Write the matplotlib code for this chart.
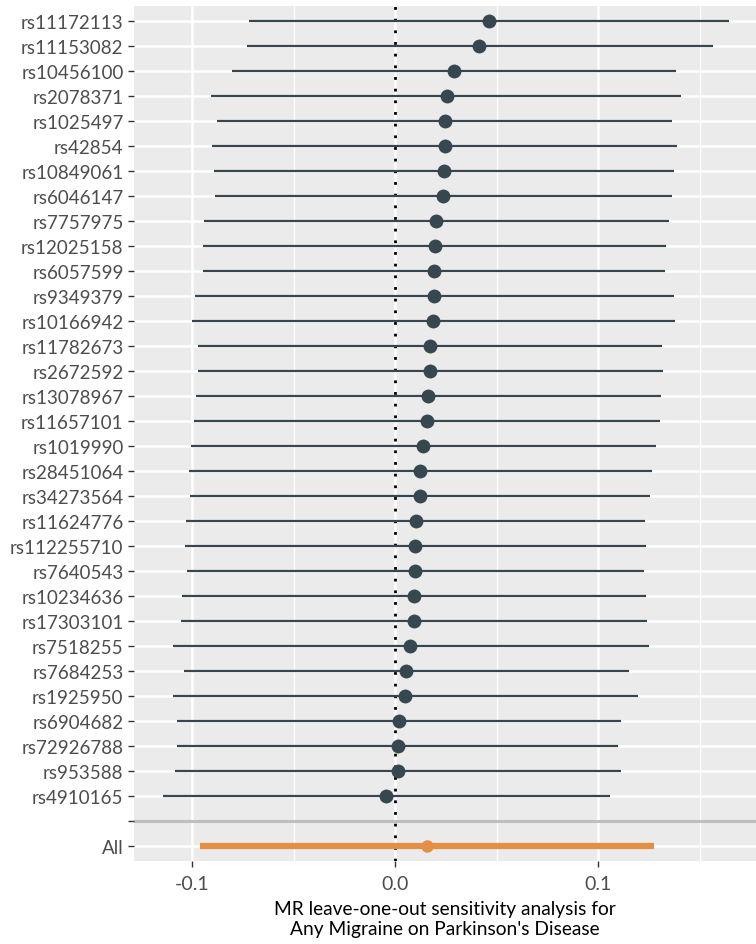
import matplotlib
matplotlib.use("Agg")
import matplotlib.pyplot as plt
import numpy as np

snps = ["rs11172113", "rs11153082", "rs10456100", "rs2078371", "rs1025497", "rs42854",
        "rs10849061", "rs6046147", "rs7757975", "rs12025158", "rs6057599", "rs9349379",
        "rs10166942", "rs11782673", "rs2672592", "rs13078967", "rs11657101", "rs1019990",
        "rs28451064", "rs34273564", "rs11624776", "rs112255710", "rs7640543", "rs10234636",
        "rs17303101", "rs7518255", "rs7684253", "rs1925950", "rs6904682", "rs72926788",
        "rs953588", "rs4910165"]
beta = [0.0461, 0.0413, 0.0287, 0.0252, 0.0242, 0.0242, 0.0237, 0.0235, 0.0199, 0.0195,
        0.0190, 0.0190, 0.0185, 0.0168, 0.0168, 0.0161, 0.0154, 0.0138, 0.0121, 0.0119,
        0.0100, 0.0097, 0.0097, 0.0090, 0.0090, 0.0071, 0.0052, 0.0047, 0.0016, 0.0012,
        0.0012, -0.0045]
lower = [-0.0722, -0.0732, -0.0803, -0.0907, -0.0877, -0.0905, -0.0896, -0.0889, -0.0943,
         -0.0950, -0.0948, -0.0988, -0.1002, -0.0974, -0.0974, -0.0981, -0.0993, -0.1007,
         -0.1019, -0.1014, -0.1031, -0.1038, -0.1026, -0.1052, -0.1057, -0.1098, -0.1040,
         -0.1098, -0.1074, -0.1074, -0.1086, -0.1145]
upper = [0.1643, 0.1563, 0.1380, 0.1408, 0.1363, 0.1387, 0.1373, 0.1361, 0.1349, 0.1335,
         0.1330, 0.1373, 0.1375, 0.1313, 0.1316, 0.1306, 0.1301, 0.1285, 0.1264, 0.1252,
         0.1230, 0.1235, 0.1223, 0.1235, 0.1240, 0.1249, 0.1149, 0.1195, 0.1111, 0.1097,
         0.1109, 0.1059]
all_label = "All"
all_beta = 0.0154
all_lower = -0.0962
all_upper = 0.1273

xticks = [-0.1, 0.0, 0.1]
xticklabels = ["-0.1", "0.0", "0.1"]
xlabel = "MR leave-one-out sensitivity analysis for\nAny Migraine on Parkinson's Disease"

dark = "#36474f"
orange = "#e39046"

plt.rcParams['font.family'] = ['Lato', 'DejaVu Sans']

fig = plt.figure(figsize=(7.56, 9.45), dpi=100)
ax = fig.add_axes([134/756, 1 - 861.7/945, 1 - 134/756, (861.7 - 6.7)/945])
ax.set_facecolor("#ebebeb")

n = len(snps)
labels = snps + ["", all_label]
ypos = np.arange(len(labels))  # 0 at top
ax.set_ylim(len(labels) - 1 + 0.6, -0.6)
ax.set_xlim(-0.1288, 0.1776)

# grid
for v in [-0.05, 0.05, 0.15]:
    ax.axvline(v, color="white", lw=0.9, zorder=0)
for v in xticks:
    ax.axvline(v, color="white", lw=1.8, zorder=0)
for y in ypos:
    ax.axhline(y, color="white", lw=1.8, zorder=0)

# separator line for blank row
ax.axhline(n, color="#bebebe", lw=2.2, zorder=1)

# vertical dotted zero line
ax.axvline(0, color="black", lw=2.0, ls=(0, (1, 3.2)), zorder=2)

# SNP estimates
yy = ypos[:n]
ax.hlines(yy, lower, upper, color=dark, lw=1.6, zorder=3)
ax.scatter(beta, yy, s=100, color=dark, zorder=4, linewidths=0)

# All
ax.hlines([n + 1], [all_lower], [all_upper], color=orange, lw=4.5, zorder=3)
ax.scatter([all_beta], [n + 1], s=80, color=orange, zorder=4, linewidths=0)

ax.set_yticks(ypos)
ax.set_yticklabels(labels)
ax.set_xticks(xticks)
ax.set_xticklabels(xticklabels)
ax.tick_params(axis="both", colors="#333333", length=4, width=1, labelsize=13.5, labelcolor="#4d4d4d")
ax.tick_params(axis="x", labelsize=14, pad=6)
for s in ax.spines.values():
    s.set_visible(False)
ax.set_xlabel(xlabel, fontsize=13.8, color="black", labelpad=6, linespacing=1.25)

fig.savefig("out.png", dpi=100)
